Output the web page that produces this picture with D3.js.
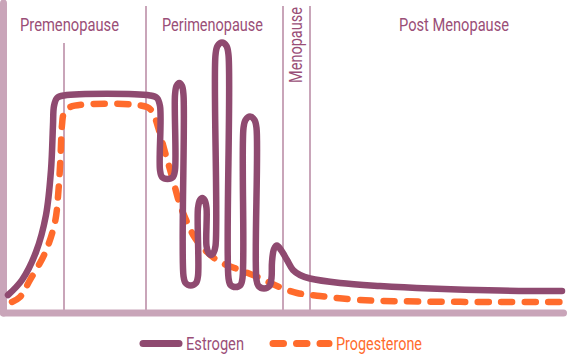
<!DOCTYPE html>
<html>
<head>
<meta charset="utf-8">
<script src="https://cdn.jsdelivr.net/npm/d3@7"></script>
<style>
  body { margin: 0; background: #fff; }
  text { font-family: Roboto, "Liberation Sans", sans-serif; }
</style>
</head>
<body>
<script>
var width = 569,
    height = 354;

// phases (time axis, arbitrary units)
var phaseNames = ["Premenopause", "Perimenopause", "Menopause", "Post Menopause"];
var phaseLabelX = [62.5, 205.5, 294.5, 447];
var phaseBounds = [57, 139, 276, 303];

// estrogen level over time
var estrogenT = [1, 15, 29, 39, 44, 46, 47, 50, 57, 143, 150, 153, 153, 155, 160.5, 166, 168, 168, 169.5, 172.3, 175, 176.5,
  176.5, 178.5, 183.7, 189, 191, 191, 193, 195.3, 197.5, 199.5, 199.5, 201.5, 204, 206.5, 208.5, 208.5, 210.5, 215, 219.5, 221.5,
  221.5, 223.5, 228.5, 233.5, 235.5, 236.5, 238.5, 243, 247.5, 249.5, 249.5, 251.5, 257, 262.5, 264.5, 265, 267, 270, 274,
  280, 286, 293, 303, 333, 373, 423, 493, 555];
var estrogenLevel = [18, 33, 61, 98, 143, 188, 207, 215, 217.5, 217.5, 215, 207, 143, 136, 134, 136, 143, 218, 227, 230, 227, 218,
  37, 30, 27.5, 30, 37, 105, 113, 115, 113, 105, 67, 60, 58, 60, 67, 258, 267, 270.5, 267, 258,
  35, 28, 26, 28, 35, 185, 193, 196.5, 193, 185, 33, 27, 24.5, 27, 35, 51, 64, 67.5, 63,
  53, 43, 38, 34.5, 30, 27, 24.5, 22.5, 22];

// progesterone level over time
var progesteroneT = [5, 13, 23, 38, 48, 51.5, 53.5, 55, 57, 63, 140, 146, 151, 158, 166, 173, 180, 188, 200, 213, 233, 253,
  270, 290, 313, 353, 413, 493, 555];
var progesteroneLevel = [11, 16, 33, 60, 91, 123, 156, 188, 200, 206, 206, 200, 186, 161, 133, 108, 91, 75, 61, 51, 43, 35,
  27, 20, 17, 13, 11.5, 11, 11];

var seriesNames = ["Estrogen", "Progesterone"];

var purple = "#8f4a70",
    orange = "#ff6b2c",
    textColor = "#9a4e77",
    axisColor = "#c9a5b9";

// narrow font is not installed, so squeeze the text to the reference widths
var labelWidths = [99, 101, 76, 110];
var legendWidths = [58, 86];

var svg = d3.select("body").append("svg")
    .attr("width", width)
    .attr("height", height);

var x = d3.scaleLinear().domain([0, 556]).range([7, 563]);
var y = d3.scaleLinear().domain([0, 280]).range([313, 33]);

var line = d3.line()
    .x(d => x(d[0]))
    .y(d => y(d[1]))
    .curve(d3.curveCatmullRom.alpha(0.5));

// phase dividers
svg.selectAll("line.divider")
  .data(phaseBounds)
  .enter().append("line")
    .attr("class", "divider")
    .attr("x1", d => x(d))
    .attr("x2", d => x(d))
    .attr("y1", (d, i) => i == 0 ? 43 : 6)
    .attr("y2", y(0))
    .attr("stroke", axisColor)
    .attr("stroke-width", 2);

// axes
svg.append("line")
    .attr("x1", 3.5).attr("x2", 3.5)
    .attr("y1", 3).attr("y2", y(0))
    .attr("stroke", axisColor)
    .attr("stroke-width", 7)
    .attr("stroke-linecap", "round");

svg.append("line")
    .attr("x1", 3.5).attr("x2", x(556) + 0.5)
    .attr("y1", y(0)).attr("y2", y(0))
    .attr("stroke", axisColor)
    .attr("stroke-width", 7)
    .attr("stroke-linecap", "round");

// phase labels
phaseNames.forEach(function(name, i) {
  var t = svg.append("text")
    .attr("fill", textColor)
    .attr("font-size", 18.5)
    .attr("text-anchor", "middle")
    .attr("textLength", labelWidths[i])
    .attr("lengthAdjust", "spacingAndGlyphs")
    .text(name);
  if (name == "Menopause") {
    t.attr("transform", "translate(" + x(phaseLabelX[i]) + ",45) rotate(-90)");
  } else {
    t.attr("x", x(phaseLabelX[i])).attr("y", 31);
  }
});

var progData = d3.zip(progesteroneT, progesteroneLevel);
var estData = d3.zip(estrogenT, estrogenLevel);

svg.append("path")
    .datum(progData)
    .attr("d", line)
    .attr("fill", "none")
    .attr("stroke", orange)
    .attr("stroke-width", 6.5)
    .attr("stroke-linecap", "round")
    .attr("stroke-linejoin", "round")
    .attr("stroke-dasharray", "11 12.5");

svg.append("path")
    .datum(estData)
    .attr("d", line)
    .attr("fill", "none")
    .attr("stroke", purple)
    .attr("stroke-width", 6.5)
    .attr("stroke-linecap", "round")
    .attr("stroke-linejoin", "round");

// legend
var legend = svg.append("g");

legend.append("line")
    .attr("x1", 143).attr("x2", 179)
    .attr("y1", 343.5).attr("y2", 343.5)
    .attr("stroke", purple)
    .attr("stroke-width", 7)
    .attr("stroke-linecap", "round");

legend.append("text")
    .attr("x", 186).attr("y", 349.5)
    .attr("fill", textColor)
    .attr("font-size", 18.5)
    .attr("textLength", legendWidths[0])
    .attr("lengthAdjust", "spacingAndGlyphs")
    .text(seriesNames[0]);

legend.append("line")
    .attr("x1", 273).attr("x2", 329)
    .attr("y1", 343.5).attr("y2", 343.5)
    .attr("stroke", orange)
    .attr("stroke-width", 7)
    .attr("stroke-linecap", "round")
    .attr("stroke-dasharray", "10.5 13");

legend.append("text")
    .attr("x", 336).attr("y", 349.5)
    .attr("fill", orange)
    .attr("font-size", 18.5)
    .attr("textLength", legendWidths[1])
    .attr("lengthAdjust", "spacingAndGlyphs")
    .text(seriesNames[1]);
</script>
</body>
</html>
